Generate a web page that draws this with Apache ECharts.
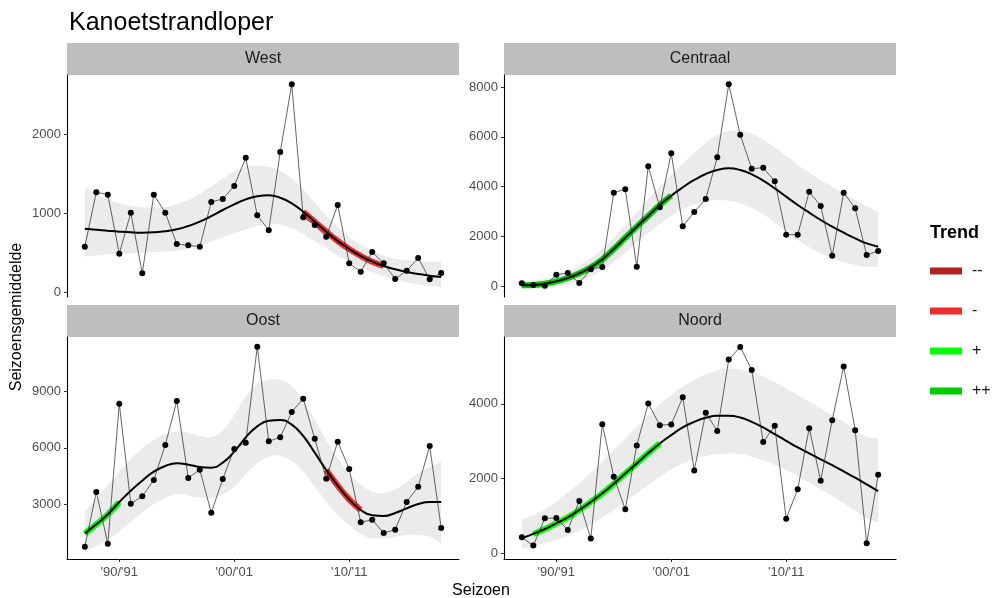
<!DOCTYPE html>
<html>
<head>
<meta charset="utf-8">
<title>Kanoetstrandloper</title>
<script src="https://cdn.jsdelivr.net/npm/echarts@6/dist/echarts.min.js"></script>
<style>
html, body { margin: 0; padding: 0; background: #fff; }
#main { width: 993px; height: 598px; }
</style>
</head>
<body>
<div id="main"></div>
<script>
var FONT = 'Liberation Sans, Arial, sans-serif';

// seizoenen (startjaar)
var seasons = [1987, 1988, 1989, 1990, 1991, 1992, 1993, 1994, 1995, 1996, 1997, 1998, 1999, 2000, 2001, 2002,
    2003, 2004, 2005, 2006, 2007, 2008, 2009, 2010, 2011, 2012, 2013, 2014, 2015, 2016, 2017, 2018];
var xTicks = [1990, 2000, 2010];

// West
var westObs = [580, 1266, 1236, 492, 1009, 245, 1236, 1009, 614, 597, 580, 1144, 1182, 1346, 1703, 976,
    787, 1774, 2628, 951, 854, 706, 1106, 371, 265, 513, 371, 173, 278, 438, 169, 248];
var westFit = [807, 795, 782, 770, 761, 757, 761, 774, 799, 841, 896, 967, 1043, 1114, 1177, 1215,
    1228, 1198, 1127, 1022, 896, 770, 652, 551, 463, 391, 337, 295, 261, 236, 215, 198];
var westLo = [454, 471, 484, 492, 496, 505, 509, 517, 530, 555, 593, 644, 698, 749, 799, 841,
    866, 858, 812, 740, 652, 564, 471, 391, 320, 261, 211, 169, 131, 106, 84, 76];
var westHi = [1324, 1245, 1177, 1127, 1093, 1076, 1072, 1085, 1119, 1169, 1245, 1337, 1438, 1526, 1581, 1602,
    1589, 1539, 1442, 1303, 1135, 971, 833, 707, 606, 526, 467, 429, 408, 396, 391, 391];
var westTicks = [0, 1000, 2000];
var westTrend = [['-', 2006, 2013]];

// Centraal
var centObs = [107, 40, 5, 456, 523, 121, 671, 765, 3756, 3890, 778, 4816, 3165, 5338, 2401, 2978,
    3501, 5177, 8115, 6089, 4720, 4761, 4212, 2065, 2065, 3796, 3219, 1221, 3756, 3125, 1248, 1408];
var centFit = [27, 40, 94, 188, 322, 510, 751, 1073, 1489, 1945, 2388, 2817, 3260, 3635, 3971, 4266,
    4507, 4668, 4735, 4668, 4494, 4239, 3930, 3595, 3260, 2951, 2656, 2388, 2146, 1918, 1717, 1583];
var centLo = [-94, -107, -94, -27, 67, 201, 389, 644, 966, 1341, 1744, 2119, 2495, 2817, 3085, 3273,
    3394, 3461, 3434, 3327, 3139, 2884, 2549, 2200, 1851, 1556, 1315, 1113, 952, 845, 778, 778];
var centHi = [174, 215, 295, 416, 590, 818, 1113, 1489, 1945, 2455, 2978, 3488, 3997, 4467, 4936, 5366,
    5768, 6063, 6238, 6251, 6117, 5875, 5580, 5231, 4883, 4561, 4266, 3997, 3729, 3461, 3193, 2991];
var centTicks = [0, 2000, 4000, 6000, 8000];
var centTrend = [['++', 1987, 2000]];

// Oost
var oostObs = [783, 3669, 941, 8332, 3053, 3440, 4302, 6150, 8473, 4408, 4848, 2578, 4355, 5939, 6273, 11341,
    6343, 6555, 7892, 8596, 6484, 4373, 6326, 4883, 2068, 2208, 1504, 1680, 3141, 3950, 6097, 1768];
var oostFit = [1487, 1962, 2490, 3141, 3739, 4267, 4742, 5041, 5182, 5112, 4988, 4953, 5217, 5798, 6555, 7135,
    7434, 7470, 7223, 6625, 5745, 4830, 4003, 3282, 2719, 2437, 2402, 2560, 2807, 3035, 3141, 3141];
var oostLo = [519, 818, 1135, 1575, 2103, 2578, 3035, 3370, 3546, 3475, 3387, 3352, 3546, 3950, 4619, 5182,
    5534, 5587, 5305, 4742, 3950, 3158, 2455, 1927, 1452, 1223, 1223, 1311, 1399, 1416, 1311, 959];
var oostHi = [2631, 3334, 4038, 4742, 5393, 5974, 6414, 6730, 6854, 6801, 6625, 6555, 6907, 7734, 8701, 9352,
    9616, 9581, 9264, 8490, 7505, 6414, 5446, 4654, 4038, 3686, 3598, 3810, 4214, 4654, 5006, 5270];
var oostTicks = [3000, 6000, 9000];
var oostTrend = [['+', 1987, 1990], ['-', 2008, 2011]];

// Noord
var noordObs = [428, 205, 935, 944, 624, 1399, 392, 3457, 2049, 1176, 2887, 4009, 3430, 3448, 4178, 2218,
    3760, 3270, 5185, 5524, 4909, 2976, 3412, 927, 1711, 3350, 1942, 3564, 4998, 3296, 267, 2103];
var noordFit = [401, 517, 650, 802, 962, 1158, 1372, 1604, 1862, 2138, 2405, 2682, 2940, 3163, 3368, 3519,
    3626, 3679, 3679, 3635, 3519, 3368, 3189, 3011, 2833, 2673, 2512, 2361, 2192, 2022, 1844, 1666];
var noordLo = [116, 178, 267, 356, 463, 597, 757, 953, 1158, 1381, 1604, 1826, 2049, 2245, 2405, 2512,
    2601, 2655, 2673, 2655, 2584, 2494, 2361, 2227, 2067, 1889, 1711, 1532, 1336, 1140, 935, 820];
var noordHi = [891, 1025, 1176, 1381, 1621, 1871, 2156, 2450, 2762, 3074, 3385, 3697, 3991, 4232, 4455, 4633,
    4784, 4900, 4944, 4918, 4855, 4740, 4588, 4410, 4232, 4054, 3875, 3697, 3519, 3296, 3118, 3074];
var noordTicks = [0, 2000, 4000];
var noordTrend = [['+', 1988, 1999]];

var trendNames = ['--', '-', '+', '++'];
var trendColors = { '--': '#B22222', '-': '#EE2C2C', '+': '#00FF00', '++': '#00CD00' };

// layout van de vier panelen
var panels = [
    { name: 'West', obs: westObs, fit: westFit, lo: westLo, hi: westHi, ticks: westTicks, trend: westTrend,
        min: -54, max: 2745, left: 67, top: 75, bottomAxis: false },
    { name: 'Centraal', obs: centObs, fit: centFit, lo: centLo, hi: centHi, ticks: centTicks, trend: centTrend,
        min: -443, max: 8491, left: 504, top: 75, bottomAxis: false },
    { name: 'Oost', obs: oostObs, fit: oostFit, lo: oostLo, hi: oostHi, ticks: oostTicks, trend: oostTrend,
        min: 132, max: 11851, left: 67, top: 337, bottomAxis: true },
    { name: 'Noord', obs: noordObs, fit: noordFit, lo: noordLo, hi: noordHi, ticks: noordTicks, trend: noordTrend,
        min: -154, max: 5790, left: 504, top: 337, bottomAxis: true }
];
var PW = 392, PH = 222;

function pairs(ys) {
    return seasons.map(function (s, i) { return [s, ys[i]]; });
}

function seasonLabel(v) {
    var a = String(v).slice(2), b = String(v + 1).slice(2);
    return "'" + a + "/'" + b;
}

// band tekenen als een polygoon via de assen van de grid
// (hoekpunten dubbel zodat de uiteinden recht blijven)
function bandRenderer(p) {
    return function (params, api) {
        if (params.dataIndex !== 0) return;
        var n = seasons.length, pts = [], k;
        for (k = 0; k < n; k++) pts.push(api.coord([seasons[k], p.hi[k]]));
        pts.push(api.coord([seasons[n - 1], p.hi[n - 1]]));
        pts.push(api.coord([seasons[n - 1], p.lo[n - 1]]));
        for (k = n - 1; k >= 0; k--) pts.push(api.coord([seasons[k], p.lo[k]]));
        pts.push(api.coord([seasons[0], p.lo[0]]));
        pts.push(api.coord([seasons[0], p.hi[0]]));
        return {
            type: 'polygon', silent: true,
            shape: { points: pts, smooth: 0.35 },
            style: { fill: '#EBEBEB', stroke: null }
        };
    };
}

var chart = echarts.init(document.getElementById('main'));

var grids = [], xAxes = [], yAxes = [], series = [], graphics = [];

panels.forEach(function (p, i) {
    grids.push({ left: p.left, top: p.top, width: PW, height: PH, containLabel: false });

    xAxes.push({
        type: 'value', gridIndex: i, min: 1985.45, max: 2019.55,
        show: p.bottomAxis,
        splitLine: { show: false },
        axisLine: { show: true, onZero: false, lineStyle: { color: '#000', width: 1.1 } },
        axisTick: { show: true, length: 3, customValues: xTicks, lineStyle: { color: '#333' } },
        axisLabel: { customValues: xTicks, formatter: seasonLabel, color: '#4D4D4D', fontSize: 13, margin: 7, fontFamily: FONT }
    });

    yAxes.push({
        type: 'value', gridIndex: i, min: p.min, max: p.max,
        splitLine: { show: false },
        axisLine: { show: true, onZero: false, lineStyle: { color: '#000', width: 1.1 } },
        axisTick: { show: true, length: 3, customValues: p.ticks, lineStyle: { color: '#333' } },
        axisLabel: {
            customValues: p.ticks, color: '#4D4D4D', fontSize: 13, margin: 6, fontFamily: FONT,
            formatter: function (v) { return String(v); }
        }
    });

    // betrouwbaarheidsband
    series.push({
        type: 'custom', xAxisIndex: i, yAxisIndex: i, silent: true, clip: true,
        data: seasons.map(function (s, k) { return [s, p.lo[k], p.hi[k]]; }),
        encode: { x: 0, y: [1, 2] },
        renderItem: bandRenderer(p)
    });

    // trend stukken
    p.trend.forEach(function (t) {
        var seg = pairs(p.fit).filter(function (d) { return d[0] >= t[1] && d[0] <= t[2]; });
        series.push({
            name: t[0], type: 'line', xAxisIndex: i, yAxisIndex: i, data: seg,
            smooth: true, symbol: 'none', silent: true,
            lineStyle: { color: trendColors[t[0]], width: 6 },
            itemStyle: { color: trendColors[t[0]] }
        });
    });

    // gladde lijn
    series.push({
        type: 'line', xAxisIndex: i, yAxisIndex: i, data: pairs(p.fit),
        smooth: true, symbol: 'none', silent: true,
        lineStyle: { color: '#000', width: 2 }
    });

    // waarnemingen
    series.push({
        type: 'line', xAxisIndex: i, yAxisIndex: i, data: pairs(p.obs),
        symbol: 'circle', symbolSize: 6, silent: true,
        lineStyle: { color: '#222', width: 0.7 },
        itemStyle: { color: '#000' }
    });

    // paneel kop
    graphics.push({
        type: 'rect', shape: { x: p.left, y: p.top - 32, width: PW, height: 32 },
        style: { fill: '#BEBEBE' }, silent: true
    });
    graphics.push({
        type: 'text', x: p.left + PW / 2, y: p.top - 16, silent: true,
        style: { text: p.name, fill: '#1A1A1A', font: '16px ' + FONT, textAlign: 'center', textVerticalAlign: 'middle' }
    });
});

// lege series zodat alle legenda items er zijn
trendNames.forEach(function (n) {
    series.push({
        name: n, type: 'line', xAxisIndex: 0, yAxisIndex: 0, data: [],
        lineStyle: { color: trendColors[n] }, itemStyle: { color: trendColors[n] }
    });
});

graphics.push({
    type: 'text', x: 481, y: 591, silent: true,
    style: { text: 'Seizoen', fill: '#000', font: '16px ' + FONT, textAlign: 'center', textVerticalAlign: 'middle' }
});
graphics.push({
    type: 'text', x: 17, y: 317, rotation: Math.PI / 2, silent: true,
    style: { text: 'Seizoensgemiddelde', fill: '#000', font: '16px ' + FONT, textAlign: 'center', textVerticalAlign: 'middle' }
});
graphics.push({
    type: 'text', x: 930, y: 233, silent: true,
    style: { text: 'Trend', fill: '#000', font: 'bold 18px ' + FONT, textAlign: 'left', textVerticalAlign: 'middle' }
});

var option = {
    animation: false,
    backgroundColor: '#fff',
    title: {
        text: 'Kanoetstrandloper', left: 64, top: 6,
        textStyle: { fontSize: 25, fontWeight: 'normal', color: '#000', fontFamily: FONT }
    },
    legend: {
        data: trendNames, orient: 'vertical', left: 925, top: 258,
        icon: 'rect', itemWidth: 32, itemHeight: 7, itemGap: 24,
        selectedMode: false,
        textStyle: { fontSize: 16, color: '#1A1A1A', fontFamily: FONT, padding: [0, 0, 0, 5] }
    },
    grid: grids,
    xAxis: xAxes,
    yAxis: yAxes,
    series: series,
    graphic: graphics
};

chart.setOption(option);
</script>
</body>
</html>
